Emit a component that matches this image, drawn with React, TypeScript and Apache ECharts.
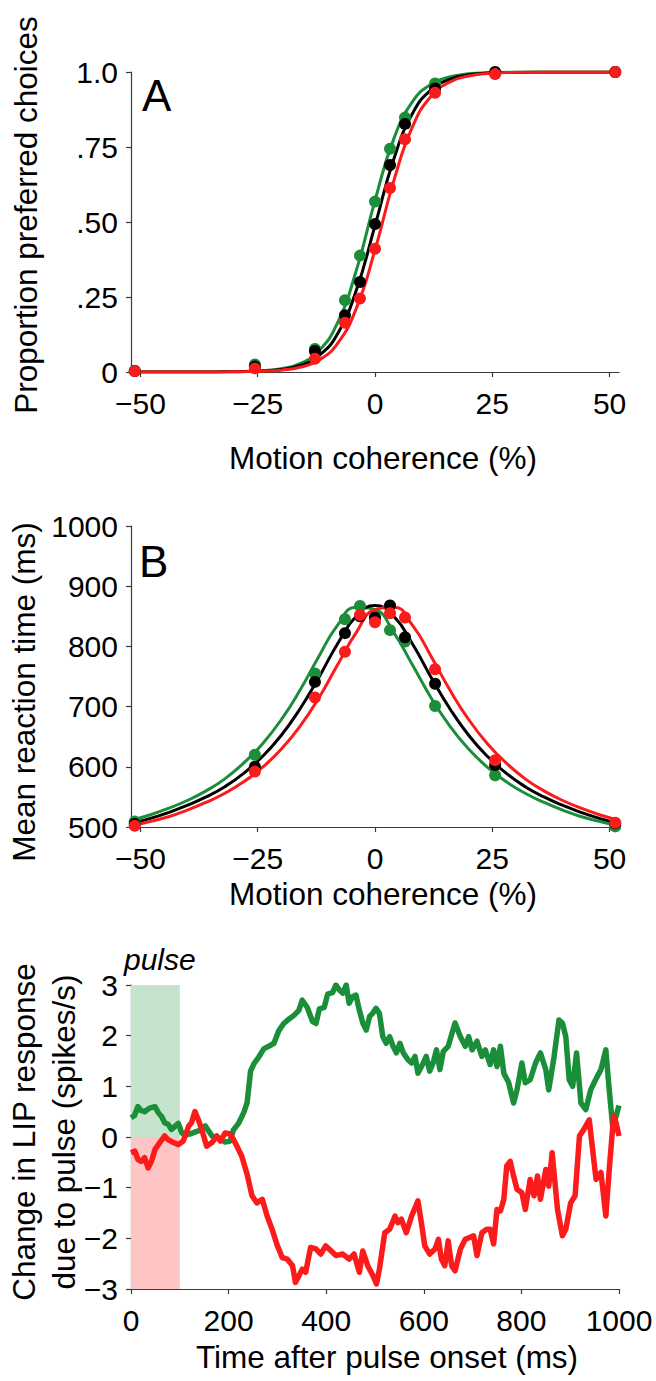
import React, { useEffect, useRef } from 'react';
import * as echarts from 'echarts';

// ---------- Panel A & B: motion coherence ----------
const coherence = [-51.2, -25.6, -12.8, -6.4, -3.2, 0, 3.2, 6.4, 12.8, 25.6, 51.2];
const xTicksAB = [-50, -25, 0, 25, 50];

// Panel A: proportion preferred choices (dots)
const propBlack = [0.003, 0.018, 0.07, 0.189, 0.3, 0.493, 0.69, 0.827, 0.945, 1.0, 1.0];
const propGreen = [0.004, 0.025, 0.077, 0.239, 0.388, 0.568, 0.744, 0.848, 0.962, 0.995, 1.0];
const propRed = [0.003, 0.012, 0.044, 0.164, 0.245, 0.411, 0.613, 0.776, 0.931, 0.993, 1.0];

// Fitted curves at a regular step of 4 % coherence
const fitX = [-52, -48, -44, -40, -36, -32, -28, -24, -20, -16, -12, -8, -4, 0, 4, 8, 12, 16, 20, 24, 28, 32, 36, 40, 44, 48, 52];
const fitABlack = [0, 0, 0, 0.0001, 0.0002, 0.0005, 0.0013, 0.0034, 0.0086, 0.0217, 0.0538, 0.127, 0.272, 0.488, 0.709, 0.862, 0.941, 0.9762, 0.9905, 0.9963, 0.9985, 0.9994, 0.9998, 1, 1, 1, 1];
const fitAGreen = [0, 0, 0, 0.0001, 0.0002, 0.0006, 0.0016, 0.0042, 0.0109, 0.0279, 0.0698, 0.1635, 0.338, 0.5715, 0.777, 0.901, 0.9597, 0.9841, 0.9939, 0.9976, 0.9991, 0.9997, 1, 1, 1, 1, 1];
const fitARed = [0, 0, 0, 0.0001, 0.0001, 0.0004, 0.001, 0.0024, 0.0062, 0.0157, 0.0393, 0.0948, 0.2115, 0.407, 0.637, 0.818, 0.92, 0.9672, 0.9869, 0.9948, 0.998, 0.9992, 0.9997, 1, 1, 1, 1];

// Panel B: mean reaction time (dots)
const rtBlack = [505, 600, 741, 822, 850, 848, 868, 815, 738, 603, 506];
const rtGreen = [509, 620, 755, 845, 867, 848, 827, 808, 701, 586, 501];
const rtRed = [502, 592, 715, 791, 852, 840, 855, 848, 762, 611, 507];

// Panel B: fitted curves (same x step)
const fitBBlack = [506, 514, 524, 536, 550, 567, 589, 617, 652, 696, 748, 804, 850, 868, 850, 804, 748, 696, 652, 617, 589, 567, 550, 536, 524, 514, 506];
const fitBGreen = [511, 520, 531, 544, 560, 580, 606, 638, 678, 727, 783, 835, 865, 861, 823, 769, 714, 667, 629, 599, 575, 556, 541, 528, 517, 509, 501];
const fitBRed = [501, 509, 517, 528, 541, 556, 575, 599, 629, 667, 714, 769, 823, 861, 865, 835, 783, 727, 678, 638, 606, 580, 560, 544, 531, 520, 511];

// ---------- Panel C: change in LIP response ----------
const greenT = [0, 7, 14, 21, 28, 38, 49, 56, 63, 69, 76, 83, 90, 97, 104, 111, 124, 138, 152, 166, 179, 193, 203, 210, 221, 231, 238, 245, 252, 262, 272, 282, 293, 303, 313, 324, 334, 344, 351, 361, 372, 379, 386, 396, 403, 413, 420, 427, 434, 441, 447, 454, 461, 468, 475, 482, 489, 495, 502, 509, 516, 523, 530, 537, 544, 551, 558, 568, 575, 582, 588, 599, 605, 612, 619, 626, 633, 640, 650, 664, 675, 685, 692, 699, 709, 719, 726, 736, 743, 750, 757, 764, 774, 784, 791, 801, 808, 818, 829, 839, 850, 856, 867, 877, 884, 891, 898, 905, 913, 922, 932, 942, 952, 963, 973, 980, 987, 994, 1000];
const greenV = [0.38, 0.42, 0.6, 0.52, 0.5, 0.57, 0.6, 0.48, 0.4, 0.28, 0.25, 0.15, 0.21, 0.27, 0.08, 0.04, 0.07, 0.12, 0.22, 0.02, -0.02, -0.1, -0.08, 0.14, 0.28, 0.48, 0.68, 1.3, 1.45, 1.58, 1.74, 1.79, 1.85, 2.1, 2.24, 2.33, 2.4, 2.5, 2.7, 2.56, 2.28, 2.24, 2.53, 2.56, 2.82, 2.85, 3.0, 2.9, 2.84, 3.0, 2.64, 2.77, 2.8, 2.5, 2.25, 2.11, 2.38, 2.44, 2.54, 2.44, 1.98, 1.85, 1.98, 1.79, 1.66, 1.85, 1.66, 1.52, 1.46, 1.59, 1.26, 1.46, 1.59, 1.3, 1.46, 1.72, 1.33, 1.69, 1.79, 2.25, 1.98, 1.79, 1.98, 1.72, 1.89, 1.59, 1.72, 1.43, 1.72, 1.39, 1.79, 1.26, 1.07, 0.67, 0.93, 1.46, 1.07, 1.13, 1.46, 1.66, 1.33, 0.93, 1.59, 2.31, 2.25, 1.98, 1.13, 1.0, 1.66, 0.67, 0.54, 0.93, 1.13, 1.33, 1.72, 0.93, 0.21, 0.41, 0.62];
const redT = [0, 8, 14, 21, 28, 35, 42, 49, 59, 69, 76, 87, 97, 107, 118, 124, 131, 138, 145, 155, 166, 176, 183, 193, 203, 210, 217, 227, 238, 248, 258, 269, 279, 289, 300, 310, 320, 331, 337, 344, 351, 358, 368, 379, 389, 399, 406, 420, 434, 447, 457, 468, 475, 485, 496, 503, 509, 520, 530, 541, 547, 554, 564, 575, 588, 595, 602, 612, 623, 630, 636, 643, 650, 657, 664, 675, 685, 695, 702, 709, 719, 729, 736, 743, 750, 757, 764, 770, 777, 784, 791, 801, 808, 818, 826, 833, 839, 850, 856, 863, 874, 884, 891, 901, 910, 919, 928, 939, 946, 953, 963, 973, 980, 989, 994, 1000];
const redV = [-0.31, -0.28, -0.44, -0.48, -0.41, -0.61, -0.48, -0.25, -0.11, 0.02, -0.05, -0.11, -0.15, -0.08, 0.21, 0.28, 0.5, 0.34, 0.15, -0.18, -0.11, 0.02, -0.08, 0.08, 0.06, -0.05, -0.18, -0.38, -0.74, -1.16, -1.3, -1.23, -1.56, -1.82, -2.15, -2.38, -2.41, -2.54, -2.87, -2.74, -2.61, -2.67, -2.18, -2.21, -2.31, -2.15, -2.21, -2.34, -2.31, -2.41, -2.31, -2.67, -2.25, -2.54, -2.74, -2.9, -2.61, -1.89, -1.82, -1.56, -1.69, -1.62, -1.89, -1.56, -1.26, -1.69, -2.15, -2.31, -2.21, -2.02, -2.41, -2.54, -2.05, -2.54, -2.64, -2.21, -2.02, -1.98, -1.95, -2.34, -1.89, -1.82, -1.82, -2.11, -1.43, -1.46, -1.23, -0.57, -0.48, -0.77, -1.03, -1.1, -1.43, -0.84, -1.16, -0.77, -1.23, -0.64, -0.97, -0.31, -1.43, -1.95, -1.82, -1.3, -1.16, 0.02, 0.15, 0.34, -0.25, -0.84, -0.7, -1.56, -0.64, 0.41, 0.28, 0.02];
const pulseWindow = [0, 100];

const GREEN = '#1b8e3a';
const RED = '#fb1b1b';
const BLACK = '#000000';
const AXIS = '#3a3a3a';
const FONT = '"Liberation Sans", Arial, Helvetica, sans-serif';
const TITLE_SIZE = 31.5;

const zip = (xs: number[], ys: number[]) => xs.map((x, i) => [x, ys[i]]);
const minus = (v: number) => (v < 0 ? '\u2212' + Math.abs(v) : String(v));

const tickStyle = { show: true, length: 5, lineStyle: { color: AXIS, width: 1.2 } };
const labelStyle = { fontSize: 30, lineHeight: 30, color: '#000', fontFamily: FONT, hideOverlap: false };

function xAxisDef(gridIndex: number, extra: any, custom?: number[]) {
  return {
    gridIndex,
    type: 'value',
    axisLine: { show: true, onZero: false, lineStyle: { color: AXIS, width: 1.2 } },
    axisTick: custom ? { ...tickStyle, customValues: custom } : tickStyle,
    axisLabel: custom ? { ...labelStyle, margin: 16, formatter: minus, customValues: custom } : { ...labelStyle, margin: 16, formatter: minus },
    splitLine: { show: false },
    ...extra,
  };
}
function yAxisDef(gridIndex: number, extra: any, formatter: any) {
  return {
    gridIndex,
    type: 'value',
    axisLine: { show: true, onZero: false, lineStyle: { color: AXIS, width: 1.2 } },
    axisTick: tickStyle,
    axisLabel: { ...labelStyle, margin: 13, formatter },
    splitLine: { show: false },
    ...extra,
  };
}

function curve(grid: number, ys: number[], color: string, z: number) {
  return {
    type: 'line', xAxisIndex: grid, yAxisIndex: grid, data: zip(fitX, ys),
    showSymbol: false, smooth: 0.5,
    lineStyle: { color, width: 3 }, z,
  };
}
function dots(grid: number, ys: number[], color: string, z: number) {
  return {
    type: 'scatter', xAxisIndex: grid, yAxisIndex: grid, data: zip(coherence, ys),
    symbol: 'circle', symbolSize: 12, itemStyle: { color, opacity: 1 }, z,
  };
}

const titleStyle = (text: string, extra: any = {}) => ({ text, fontSize: TITLE_SIZE, fontFamily: FONT, fill: '#000', align: 'center', verticalAlign: 'middle', ...extra });
const letterStyle = (text: string) => ({ text, fontSize: 44, fontFamily: FONT, fill: '#000', align: 'left', verticalAlign: 'middle' });

export default function App() {
  const ref = useRef<HTMLDivElement>(null);
  useEffect(() => {
    const chart = echarts.init(ref.current!, null, { renderer: 'svg' });
    const option: any = {
      animation: false,
      backgroundColor: '#fff',
      grid: [
        { left: 131, top: 72, width: 488, height: 300 },
        { left: 131, top: 526, width: 488, height: 301 },
        { left: 131, top: 985, width: 488, height: 304 },
      ],
      xAxis: [
        xAxisDef(0, { min: -52, max: 52 }, xTicksAB),
        xAxisDef(1, { min: -52, max: 52 }, xTicksAB),
        xAxisDef(2, { min: 0, max: 1000, interval: 200 }),
      ],
      yAxis: [
        yAxisDef(0, { min: 0, max: 1, interval: 0.25 }, (v: number) => (v === 0 ? '0' : v === 1 ? '1.0' : '.' + Math.round(v * 100))),
        yAxisDef(1, { min: 500, max: 1000, interval: 100 }, (v: number) => String(v)),
        yAxisDef(2, { min: -3, max: 3, interval: 1 }, minus),
      ],
      series: [
        curve(0, fitAGreen, GREEN, 2),
        curve(0, fitABlack, BLACK, 3),
        curve(0, fitARed, RED, 4),
        dots(0, propGreen, GREEN, 5),
        dots(0, propBlack, BLACK, 6),
        dots(0, propRed, RED, 7),
        curve(1, fitBGreen, GREEN, 2),
        curve(1, fitBBlack, BLACK, 3),
        curve(1, fitBRed, RED, 4),
        dots(1, rtGreen, GREEN, 5),
        dots(1, rtBlack, BLACK, 6),
        dots(1, rtRed, RED, 7),
        {
          type: 'line', xAxisIndex: 2, yAxisIndex: 2, data: zip(greenT, greenV),
          showSymbol: false, lineStyle: { color: GREEN, width: 5.5, join: 'round' }, z: 3,
          markArea: {
            silent: true,
            z: 1,
            data: [
              [{ xAxis: pulseWindow[0], yAxis: 0, itemStyle: { color: '#c6e4cb', opacity: 1 } }, { xAxis: pulseWindow[1], yAxis: 3 }],
              [{ xAxis: pulseWindow[0], yAxis: -3, itemStyle: { color: '#ffc5c5', opacity: 1 } }, { xAxis: pulseWindow[1], yAxis: 0 }],
            ],
          },
        },
        {
          type: 'line', xAxisIndex: 2, yAxisIndex: 2, data: zip(redT, redV),
          showSymbol: false, lineStyle: { color: RED, width: 5.5, join: 'round' }, z: 4,
        },
      ],
      graphic: [
        { type: 'text', x: 142, y: 95, style: letterStyle('A') },
        { type: 'text', x: 139, y: 561, style: letterStyle('B') },
        { type: 'text', x: 138, y: 1010, style: letterStyle('C') },
        { type: 'text', x: 124, y: 959, style: titleStyle('pulse', { fontStyle: 'italic', align: 'left', fontSize: 30 }) },
        { type: 'text', x: 383, y: 458, style: titleStyle('Motion coherence (%)') },
        { type: 'text', x: 383, y: 894, style: titleStyle('Motion coherence (%)') },
        { type: 'text', x: 387, y: 1357, style: titleStyle('Time after pulse onset (ms)') },
        { type: 'text', x: 26, y: 215, rotation: Math.PI / 2, style: titleStyle('Proportion preferred choices') },
        { type: 'text', x: 24, y: 692, rotation: Math.PI / 2, style: titleStyle('Mean reaction time (ms)') },
        { type: 'text', x: 24, y: 1132, rotation: Math.PI / 2, style: titleStyle('Change in LIP response') },
        { type: 'text', x: 64, y: 1132, rotation: Math.PI / 2, style: titleStyle('due to pulse (spikes/s)') },
      ],
    };
    chart.setOption(option);
    return () => chart.dispose();
  }, []);
  return <div ref={ref} style={{ position: 'absolute', left: 0, top: 0, width: 656, height: 1381, background: '#fff' }} />;
}
